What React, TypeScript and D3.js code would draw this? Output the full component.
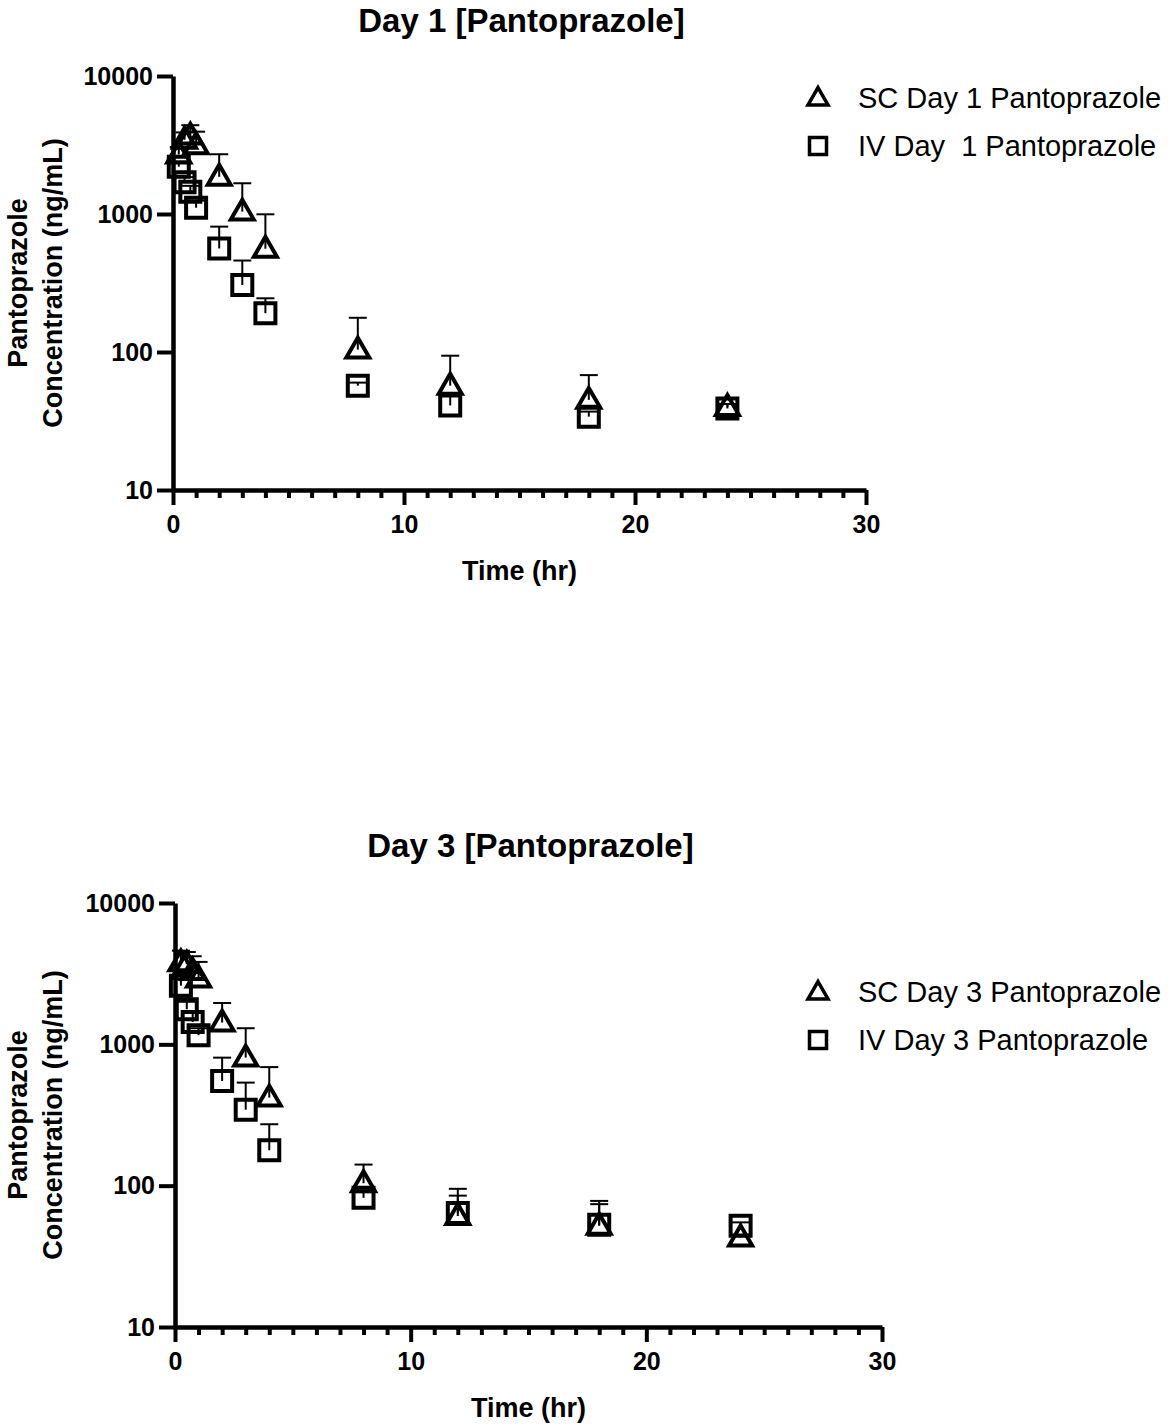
import { useEffect, useRef } from 'react';
import * as d3 from 'd3';

// sampling times (hr)
const TIMES = [0.25, 0.5, 0.75, 1, 2, 3, 4, 8, 12, 18, 24];

// Day 1 means and upper error limits (ng/mL)
const SC_DAY1 = [2700, 3450, 3700, 3150, 1860, 1040, 560, 104, 57, 45, 40];
const SC_DAY1_UP = [3050, 3900, 4400, 3950, 2710, 1670, 995, 177, 94, 68, 42];
const IV_DAY1 = [2200, 1700, 1450, 1110, 563, 306, 191, 57, 41, 34, 39];
const IV_DAY1_UP = [2400, 1850, 1600, 1250, 810, 460, 245, 60, 50, 37, 42];

// Day 3 means and upper error limits (ng/mL)
const SC_DAY3 = [3800, 3700, 3300, 2920, 1425, 805, 420, 104, 61, 52, 43];
const SC_DAY3_UP = [4600, 4500, 4200, 3830, 1960, 1300, 690, 141, 95, 78, 45];
const IV_DAY3 = [2600, 1770, 1440, 1160, 550, 345, 178, 82, 64, 53, 52];
const IV_DAY3_UP = [2900, 2000, 1700, 1300, 805, 536, 272, 90, 85, 74, 55];

const Y_TICKS = [10, 100, 1000, 10000];
const X_TICKS = [0, 10, 20, 30];

const FONT = '"Liberation Sans", Arial, sans-serif';

interface Series {
  label: string;
  shape: 'triangle' | 'square';
  mean: number[];
  upper: number[];
}

interface PanelCfg {
  title: string;
  left: number;
  right: number;
  top: number;
  bottom: number;
  titleY: number;
  legendY: number;
  series: Series[];
}

const panels: PanelCfg[] = [
  {
    title: 'Day 1 [Pantoprazole]',
    left: 173,
    right: 866,
    top: 76,
    bottom: 490,
    titleY: 32,
    legendY: 98,
    series: [
      { label: 'SC Day 1 Pantoprazole', shape: 'triangle', mean: SC_DAY1, upper: SC_DAY1_UP },
      { label: 'IV Day  1 Pantoprazole', shape: 'square', mean: IV_DAY1, upper: IV_DAY1_UP },
    ],
  },
  {
    title: 'Day 3 [Pantoprazole]',
    left: 175,
    right: 882,
    top: 903,
    bottom: 1327,
    titleY: 857,
    legendY: 992,
    series: [
      { label: 'SC Day 3 Pantoprazole', shape: 'triangle', mean: SC_DAY3, upper: SC_DAY3_UP },
      { label: 'IV Day 3 Pantoprazole', shape: 'square', mean: IV_DAY3, upper: IV_DAY3_UP },
    ],
  },
];

function markerPath(shape: string, cx: number, cy: number, s: number) {
  if (shape === 'triangle') {
    const h = s * 0.866;
    return `M${cx},${cy - h * 0.6}L${cx + s / 2},${cy + h * 0.4}L${cx - s / 2},${cy + h * 0.4}Z`;
  }
  return `M${cx - s / 2},${cy - s / 2}h${s}v${s}h${-s}Z`;
}

const App: React.FC = () => {
  const svgRef = useRef<SVGSVGElement | null>(null);

  useEffect(() => {
    if (!svgRef.current) return;
    const svg = d3.select(svgRef.current);
    svg.selectAll('*').remove();

    panels.forEach((p) => {
      const x = d3.scaleLinear().domain([0, 30]).range([p.left, p.right]);
      const y = d3.scaleLog().domain([10, 10000]).range([p.bottom, p.top]);
      const g = svg.append('g');
      const midX = (p.left + p.right) / 2;
      const midY = (p.top + p.bottom) / 2;

      // title
      g.append('text')
        .attr('x', midX + 2)
        .attr('y', p.titleY)
        .attr('text-anchor', 'middle')
        .attr('font-family', FONT)
        .attr('font-weight', 'bold')
        .attr('font-size', 33)
        .text(p.title);

      // minor x ticks
      g.append('g')
        .attr('transform', `translate(0,${p.bottom})`)
        .call(
          d3
            .axisBottom(x)
            .tickValues(d3.range(1, 30).filter((v) => v % 10 !== 0))
            .tickSize(8)
            .tickFormat(() => '')
        )
        .call((a) => a.select('.domain').remove())
        .selectAll('line')
        .attr('stroke-width', 4);

      // x axis
      const xa = g
        .append('g')
        .attr('transform', `translate(0,${p.bottom})`)
        .call(d3.axisBottom(x).tickValues(X_TICKS).tickSize(15).tickSizeOuter(0).tickPadding(10));
      xa.select('.domain').attr('stroke-width', 4.5);
      xa.selectAll('line').attr('stroke-width', 4);
      xa.selectAll('text')
        .attr('font-family', FONT)
        .attr('font-weight', 'bold')
        .attr('font-size', 25)
        .attr('fill', '#000');

      // y axis
      const ya = g
        .append('g')
        .attr('transform', `translate(${p.left},0)`)
        .call(
          d3
            .axisLeft(y)
            .tickValues(Y_TICKS)
            .tickFormat(d3.format('d'))
            .tickSize(16)
            .tickSizeOuter(0)
            .tickPadding(4)
        );
      ya.select('.domain').attr('stroke-width', 4.5);
      ya.selectAll('line').attr('stroke-width', 4);
      ya.selectAll('text')
        .attr('font-family', FONT)
        .attr('font-weight', 'bold')
        .attr('font-size', 25)
        .attr('fill', '#000');

      // axis titles
      g.append('text')
        .attr('x', midX)
        .attr('y', p.bottom + 90)
        .attr('text-anchor', 'middle')
        .attr('font-family', FONT)
        .attr('font-weight', 'bold')
        .attr('font-size', 27)
        .text('Time (hr)');

      const yl = g
        .append('text')
        .attr('transform', `translate(0,${midY}) rotate(-90)`)
        .attr('text-anchor', 'middle')
        .attr('font-family', FONT)
        .attr('font-weight', 'bold')
        .attr('font-size', 27);
      yl.append('tspan').attr('x', 0).attr('y', 27).text('Pantoprazole');
      yl.append('tspan').attr('x', 0).attr('y', 62).text('Concentration (ng/mL)');

      // data
      p.series.forEach((s, si) => {
        const pts = TIMES.map((t, i) => ({ t, m: s.mean[i], u: s.upper[i] }));
        const sg = g.append('g');
        sg.selectAll('line.err')
          .data(pts)
          .join('line')
          .attr('x1', (d) => x(d.t))
          .attr('x2', (d) => x(d.t))
          .attr('y1', (d) => y(d.m))
          .attr('y2', (d) => y(d.u))
          .attr('stroke', '#000')
          .attr('stroke-width', 2);
        sg.selectAll('line.cap')
          .data(pts)
          .join('line')
          .attr('x1', (d) => x(d.t) - 9)
          .attr('x2', (d) => x(d.t) + 9)
          .attr('y1', (d) => y(d.u))
          .attr('y2', (d) => y(d.u))
          .attr('stroke', '#000')
          .attr('stroke-width', 2);
        sg.selectAll('path.mk')
          .data(pts)
          .join('path')
          .attr('d', (d) => markerPath(s.shape, x(d.t), y(d.m), s.shape === 'triangle' ? 23 : 20))
          .attr('fill', 'none')
          .attr('stroke', '#000')
          .attr('stroke-width', 4);

        // legend
        const ly = p.legendY + si * 48;
        g.append('path')
          .attr('d', markerPath(s.shape, 818, ly, s.shape === 'triangle' ? 20 : 17))
          .attr('fill', 'none')
          .attr('stroke', '#000')
          .attr('stroke-width', 3.5);
        g.append('text')
          .attr('x', 858)
          .attr('y', ly + 10)
          .attr('font-family', FONT)
          .attr('font-size', 29)
          .attr('xml:space', 'preserve')
          .style('white-space', 'pre')
          .text(s.label);
      });
    });
  }, []);

  return (
    <svg
      ref={svgRef}
      width={1170}
      height={1427}
      style={{ position: 'absolute', left: 0, top: 0, background: '#fff' }}
    ></svg>
  );
};

export default App;
